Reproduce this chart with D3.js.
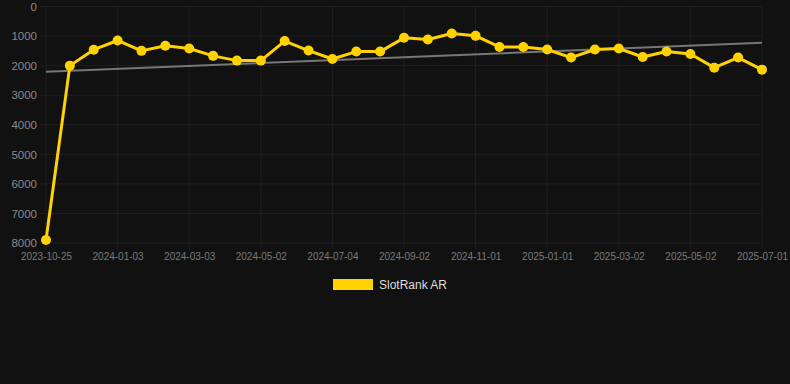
<!DOCTYPE html>
<html>
<head>
<meta charset="utf-8">
<script src="https://cdn.jsdelivr.net/npm/d3@7"></script>
<style>
  body { margin: 0; background: #111111; }
  #chart { width: 790px; height: 384px; }
  text { font-family: "Liberation Sans", Arial, sans-serif; }
</style>
</head>
<body>
<div id="chart"></div>
<script>
// ranks, one point every ~3 weeks
var rankValues = [7900, 2000, 1460, 1150, 1500, 1330, 1420, 1670, 1830, 1830,
                  1170, 1490, 1775, 1525, 1525, 1060, 1115, 912, 993, 1367,
                  1367, 1456, 1728, 1456, 1422, 1707, 1524, 1605, 2068, 1728, 2136];
var tickLabels = ["2023-10-25", "2024-01-03", "2024-03-03", "2024-05-02", "2024-07-04",
                  "2024-09-02", "2024-11-01", "2025-01-01", "2025-03-02", "2025-05-02", "2025-07-01"];
var yTicks = [0, 1000, 2000, 3000, 4000, 5000, 6000, 7000, 8000];
var seriesName = "SlotRank AR";

var w = 790, h = 384;
var plotL = 46, plotR = 762, plotT = 6.5, plotB = 243;

var svg = d3.select("#chart").append("svg")
    .attr("width", w)
    .attr("height", h);

svg.append("rect").attr("width", w).attr("height", h).attr("fill", "#111111");

var x = d3.scaleLinear().domain([0, rankValues.length - 1]).range([plotL, plotR]);
var y = d3.scaleLinear().domain([0, 8000]).range([plotT, plotB]);

var tickIdx = tickLabels.map(function(d, i) { return i * 3; });

// grid
svg.append("g")
  .selectAll("line")
  .data(yTicks)
  .enter().append("line")
    .attr("x1", plotL - 6).attr("x2", plotR)
    .attr("y1", function(d) { return y(d); })
    .attr("y2", function(d) { return y(d); })
    .attr("stroke", "#1f1f1f").attr("stroke-width", 1);

svg.append("g")
  .selectAll("line")
  .data(tickIdx)
  .enter().append("line")
    .attr("x1", function(d) { return x(d); })
    .attr("x2", function(d) { return x(d); })
    .attr("y1", plotT).attr("y2", plotB + 6)
    .attr("stroke", "#1f1f1f").attr("stroke-width", 1);

// axes
var yAxis = d3.axisLeft(y).tickValues(yTicks).tickFormat(d3.format("d")).tickSize(0).tickPadding(9);
var gy = svg.append("g").attr("transform", "translate(" + plotL + ",0)").call(yAxis);
gy.select(".domain").remove();
gy.selectAll("text").attr("fill", "#8a8a8a").attr("font-size", "11.5px");

var xAxis = d3.axisBottom(x).tickValues(tickIdx)
    .tickFormat(function(d, i) { return tickLabels[i]; })
    .tickSize(0).tickPadding(10);
var gx = svg.append("g").attr("transform", "translate(0," + plotB + ")").call(xAxis);
gx.select(".domain").remove();
gx.selectAll("text").attr("fill", "#7a7a7a").attr("font-size", "10px");

// trend line (least squares)
var n = rankValues.length;
var mx = d3.mean(rankValues, function(d, i) { return i; });
var my = d3.mean(rankValues);
var sxy = d3.sum(rankValues, function(d, i) { return (i - mx) * (d - my); });
var sxx = d3.sum(rankValues, function(d, i) { return (i - mx) * (i - mx); });
var slope = sxy / sxx;
var icpt = my - slope * mx;

svg.append("line")
    .attr("x1", x(0)).attr("y1", y(icpt))
    .attr("x2", x(n - 1)).attr("y2", y(icpt + slope * (n - 1)))
    .attr("stroke", "#777777")
    .attr("stroke-width", 2);

// series
var line = d3.line()
    .x(function(d, i) { return x(i); })
    .y(function(d) { return y(d); });

svg.append("path")
    .datum(rankValues)
    .attr("d", line)
    .attr("fill", "none")
    .attr("stroke", "#FFD200")
    .attr("stroke-width", 3)
    .attr("stroke-linejoin", "round");

svg.append("g")
  .selectAll("circle")
  .data(rankValues)
  .enter().append("circle")
    .attr("cx", function(d, i) { return x(i); })
    .attr("cy", function(d) { return y(d); })
    .attr("r", 5)
    .attr("fill", "#FFD200");

// legend
var lg = svg.append("g").attr("transform", "translate(333,279)");
lg.append("rect").attr("width", 40).attr("height", 11).attr("fill", "#FFD200");
lg.append("text")
    .attr("x", 46).attr("y", 6)
    .attr("dy", "0.35em")
    .attr("fill", "#dddddd")
    .attr("font-size", "12px")
    .text(seriesName);
</script>
</body>
</html>
